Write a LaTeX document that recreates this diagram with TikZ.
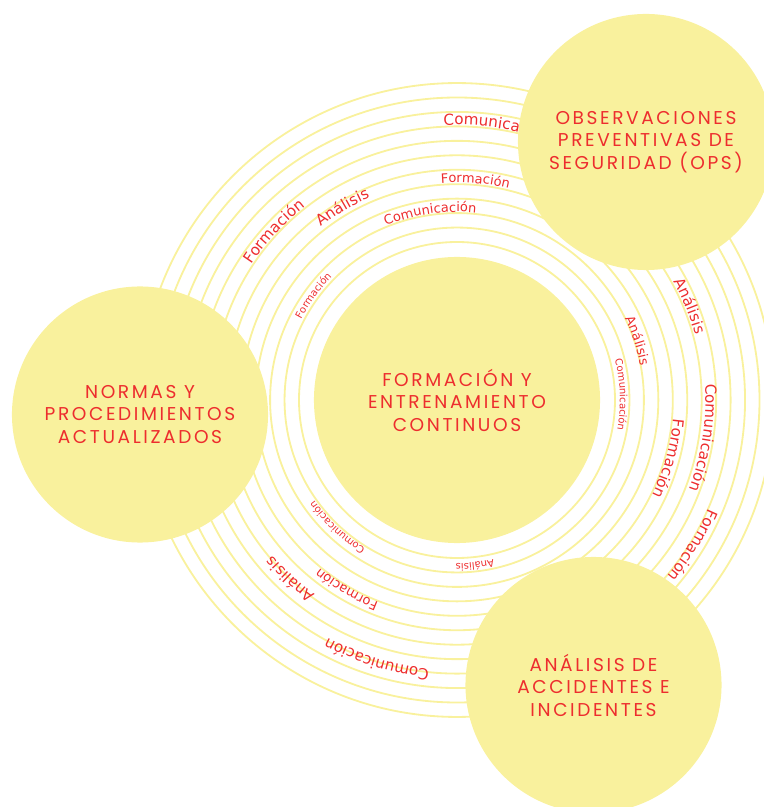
\documentclass[tikz,border=0pt]{standalone}
\usepackage{fontspec}
\usepackage{tikz}
\usetikzlibrary{decorations.text}

\newfontfamily\titlefont[LetterSpace=14]{Poppins}
\newfontfamily\ringfont{DejaVu Sans}
\definecolor{discyellow}{RGB}{249,241,157}
\definecolor{labelred}{RGB}{237,45,46}

\newcommand\wordbig{\ringfont\fontsize{10.8pt}{12pt}\selectfont\color{labelred}}
\newcommand\wordmid{\ringfont\fontsize{9.25pt}{11pt}\selectfont\color{labelred}}
\newcommand\wordsmall{\ringfont\fontsize{7.1pt}{8pt}\selectfont\color{labelred}}

\tikzset{
  ringline/.style={draw=discyellow, line width=1.3pt},
  disc/.style={circle, fill=discyellow, inner sep=0pt, align=center,
    text=labelred, font=\titlefont\fontsize{13.2pt}{16pt}\selectfont},
  satdisc/.style={disc, minimum size=6.4cm},
  coredisc/.style={disc, minimum size=7.15cm},
  along/.style={decorate, decoration={text along path, text align=center}}
}

\begin{document}
\begin{tikzpicture}[x=0.025cm,y=0.025cm]
\useasboundingbox (-457,-407) rectangle (306,400);
% rings round the centre
\foreach \k in {0,...,11}
  \draw[ringline] (0,0) circle[radius={158+14.45*\k}];
% words on the rings, all running clockwise
\path[along, decoration={text={|\wordbig|Comunicación}}] (121.6:275) arc[start angle=121.6, end angle=41.6, radius=275];
\path[along, decoration={text={|\wordmid|Formación}}] (125.2:217.5) arc[start angle=125.2, end angle=45.2, radius=217.5];
\path[along, decoration={text={|\wordmid|Comunicación}}] (138.2:188) arc[start angle=138.2, end angle=58.2, radius=188];
\path[along, decoration={text={|\wordbig|Análisis}}] (160.7:220.5) arc[start angle=160.7, end angle=80.7, radius=220.5];
\path[along, decoration={text={|\wordbig|Formación}}] (177.4:246) arc[start angle=177.4, end angle=97.4, radius=246];
\path[along, decoration={text={|\wordsmall|Formación}}] (184:175.5) arc[start angle=184, end angle=104, radius=175.5];
\path[along, decoration={text={|\wordbig|Análisis}}] (62:247) arc[start angle=62, end angle=-18, radius=247];
\path[along, decoration={text={|\wordmid|Análisis}}] (58.2:186.5) arc[start angle=58.2, end angle=-21.8, radius=186.5];
\path[along, decoration={text={|\wordsmall|Comunicación}}] (41.9:163) arc[start angle=41.9, end angle=-38.1, radius=163];
\path[along, decoration={text={|\wordbig|Comunicación}}] (31.3:248.5) arc[start angle=31.3, end angle=-48.7, radius=248.5];
\path[along, decoration={text={|\wordbig|Formación}}] (24.5:217) arc[start angle=24.5, end angle=-55.5, radius=217];
\path[along, decoration={text={|\wordbig|Formación}}] (8.4:274) arc[start angle=8.4, end angle=-71.6, radius=274];
\path[along, decoration={text={|\wordsmall|Análisis}}] (-43.8:163.5) arc[start angle=-43.8, end angle=-123.8, radius=163.5];
\path[along, decoration={text={|\wordsmall|Comunicación}}] (-93.2:174.5) arc[start angle=-93.2, end angle=-173.2, radius=174.5];
\path[along, decoration={text={|\wordmid|Formación}}] (-80.2:217) arc[start angle=-80.2, end angle=-160.2, radius=217];
\path[along, decoration={text={|\wordbig|Análisis}}] (-93:241) arc[start angle=-93, end angle=-173, radius=241];
\path[along, decoration={text={|\wordbig|Comunicación}}] (-67.2:270.5) arc[start angle=-67.2, end angle=-147.2, radius=270.5];
% the four discs
\node[coredisc] (core) at (0,0) {FORMACIÓN Y\\ENTRENAMIENTO\\CONTINUOS};
\node[satdisc] (ops) at (189,258) {OBSERVACIONES\\PREVENTIVAS DE\\SEGURIDAD (OPS)};
\node[satdisc] (normas) at (-317,-14.5) {NORMAS Y\\PROCEDIMIENTOS\\ACTUALIZADOS};
\node[satdisc] (accidentes) at (136.5,-285) {ANÁLISIS DE\\ACCIDENTES E\\INCIDENTES};
\end{tikzpicture}
\end{document}
